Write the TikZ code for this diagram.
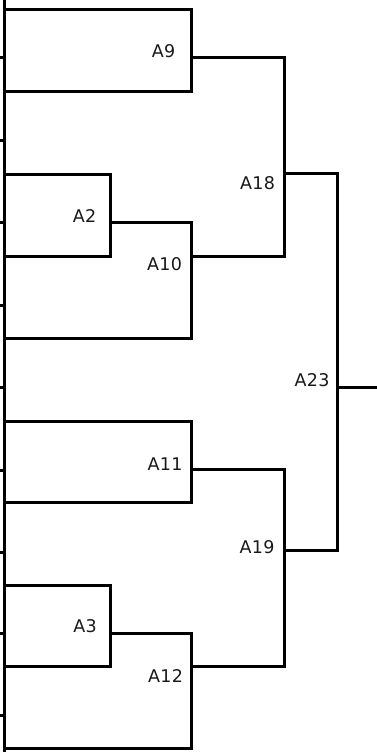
\documentclass[tikz,border=0pt]{standalone}
\usepackage{fontspec}
\setsansfont[LetterSpace=2]{DejaVu Sans}
\usetikzlibrary{calc}
\tikzset{
	bracket/.style={line width=3pt, line join=miter},
	lab/.style={font=\sffamily\fontsize{17.5}{20}\selectfont, text=black!90, inner sep=0pt}
}

\begin{document}
\begin{tikzpicture}[x=1pt,y=-1pt]
			\useasboundingbox (0,0) rectangle (377,752);

			% Junction points
			\coordinate (j9) at (191.5,58);
			\coordinate (j2) at (110.5,222);
			\coordinate (j10) at (191.5,256);
			\coordinate (j18) at (284.5,173);
			\coordinate (j11) at (191.5,469);
			\coordinate (j3) at (110.5,633);
			\coordinate (j12) at (191.5,666);
			\coordinate (j19) at (284.5,550);
			\coordinate (j23) at (337.5,387);
			\coordinate (out) at (377,387);

			% Left edge with stubs
			\draw[bracket] (4.5,0) -- (4.5,752);
			\foreach \y in {58,140,222,305,387,470,552,633,715}
				\draw[bracket] (0,\y) -- (4.5,\y);

			% Upper half
			\draw[bracket] (4.5,10) -| (191.5,91) -- (4.5,91);
			\draw[bracket] (4.5,174) -| (110.5,256) -- (4.5,256);
			\draw[bracket] (j2) -| (191.5,338) -- (4.5,338);
			\draw[bracket] (j9) -| (284.5,256) -- (j10);

			% Lower half
			\draw[bracket] (4.5,421) -| (191.5,502) -- (4.5,502);
			\draw[bracket] (4.5,585) -| (110.5,666) -- (4.5,666);
			\draw[bracket] (j3) -| (191.5,748) -- (4.5,748);
			\draw[bracket] (j11) -| (284.5,666) -- (j12);

			% Final
			\draw[bracket] (j18) -| (337.5,550) -- (j19);
			\draw[bracket] (j23) -- (out);

			% Labels
			\node[lab] (A9) at (163.5,51) {A9};
			\node[lab] (A2) at (84.5,216.5) {A2};
			\node[lab] (A10) at (164.5,264) {A10};
			\node[lab] (A18) at (257.5,183) {A18};
			\node[lab] (A11) at (165,464) {A11};
			\node[lab] (A3) at (85,626.5) {A3};
			\node[lab] (A12) at (165.5,676) {A12};
			\node[lab] (A19) at (257,547) {A19};
			\node[lab] (A23) at (312,380) {A23};
		\end{tikzpicture}
\end{document}
